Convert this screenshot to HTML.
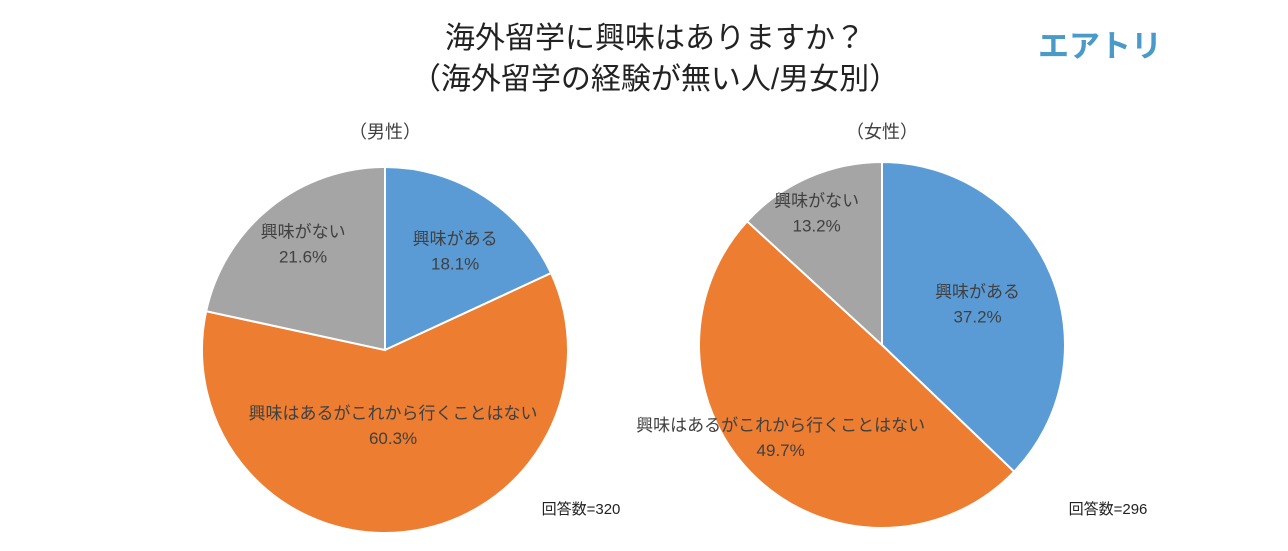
<!DOCTYPE html>
<html><head><meta charset="utf-8"><style>
body{margin:0;background:#fff;}
svg{display:block;font-family:"Liberation Sans","Noto Sans CJK JP",sans-serif;}
</style></head><body>
<svg id="c" width="1288" height="551">
<text x="655" y="48" font-size="30" text-anchor="middle" fill="#222">海外留学に興味はありますか？</text>
<text x="655" y="89" font-size="30" text-anchor="middle" fill="#222">（海外留学の経験が無い人/男女別）</text>
<text x="1100" y="57" font-size="31" font-weight="bold" text-anchor="middle" fill="#4a9ac9">エアトリ</text>
</svg>
<script>
const categories=["興味がある","興味はあるがこれから行くことはない","興味がない"];
const maleValues=[18.1,60.3,21.6];
const femaleValues=[37.2,49.7,13.2];
const colors=["#5b9bd5","#ed7d31","#a5a5a5"];
const svg=document.getElementById('c');
const NS="http://www.w3.org/2000/svg";
function txt(x,y,s,size,name){const t=document.createElementNS(NS,'text');t.setAttribute('x',x);t.setAttribute('y',y);t.setAttribute('font-size',size);t.setAttribute('text-anchor','middle');t.setAttribute('fill','#404040');t.textContent=s;


svg.appendChild(t);return t;}
function pie(cx,cy,r,vals,title,n,key,labelPos,adj,countX){
 txt(cx,138,title,18,key+'-pie-title');
 const total=vals.reduce((a,b)=>a+b,0);let a0=0;
 vals.forEach((v,i)=>{const a1=a0+v/total*2*Math.PI;
  const p=(a)=>[cx+r*Math.sin(a),cy-r*Math.cos(a)];
  const [x0,y0]=p(a0),[x1,y1]=p(a1);
  const path=document.createElementNS(NS,'path');
  path.setAttribute('d',`M${cx},${cy}L${x0},${y0}A${r},${r} 0 ${a1-a0>Math.PI?1:0} 1 ${x1},${y1}Z`);
  path.setAttribute('fill',colors[i]);path.setAttribute('stroke','#fff');path.setAttribute('stroke-width','2');
  
  
  svg.appendChild(path);
  const am=(a0+a1)/2;const lr=r*labelPos[i];
  const lx=cx+lr*Math.sin(am)+adj[i][0],ly=cy-lr*Math.cos(am)+adj[i][1];
  txt(lx,ly-4,categories[i],17,key+'-label-'+i);
  txt(lx,ly+21,v.toFixed(1)+'%',17,key+'-value-'+i);
  a0=a1;});
 txt(countX,514,'回答数='+n,15,key+'-count').setAttribute('fill','#222');
}
pie(385,350,183,maleValues,'（男性）',320,'male',[0.6,0.55,0.6],[[11,-9],[-3,-27],[-13,-23]],581);
pie(882,345,183,femaleValues,'（女性）',296,'female',[0.55,0.65,0.82],[[3,-4],[-20,3],[-5,3]],1108);
</script>
</body></html>
